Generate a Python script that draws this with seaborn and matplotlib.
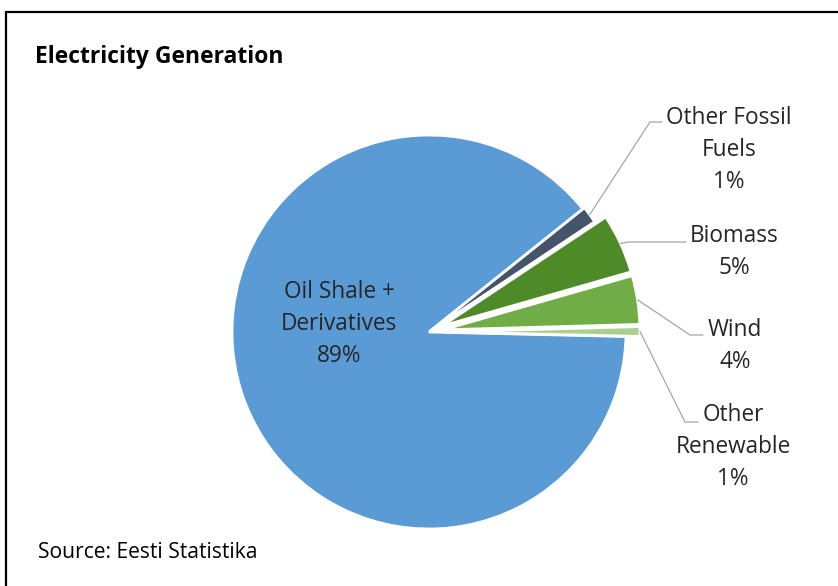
import matplotlib
matplotlib.use("Agg")
import matplotlib.pyplot as plt
import seaborn as sns
import numpy as np

# ---- data ----
categories = ["Oil Shale +\nDerivatives", "Other Fossil\nFuels", "Biomass", "Wind", "Other\nRenewable"]
shares = [88.9, 1.4, 4.9, 4.0, 0.8]
colors = ["#5B9BD5", "#44546A", "#4E8A27", "#70AD47", "#A9D18E"]

sns.set_theme(style="white")
plt.rcParams['font.family'] = ['Open Sans', 'DejaVu Sans']

W, H = 838, 586
fig = plt.figure(figsize=(W / 100, H / 100), dpi=100)
ax = fig.add_axes([0, 0, 1, 1])


def py(y):
    return H - y


explode = [0, 2, 14, 14, 14]
wedges, _ = ax.pie(shares, colors=colors, explode=explode, startangle=-1.3,
                   counterclock=False, center=(429, py(332)), radius=197,
                   wedgeprops=dict(edgecolor='white', linewidth=2), frame=True)
ax.set_xlim(0, W)
ax.set_ylim(0, H)
ax.set_aspect('equal')
ax.axis('off')

# label layout (pixel positions)
label_pos = [(339, 324), (729, 150), (734, 252), (735, 346), (733, 447)]
leader = [None, ((650, 122), (662, 122)), ((628, 242), (686, 242)),
          ((690, 335), (703, 335)), ((685, 422), (698, 422))]

for i, (cat, s) in enumerate(zip(categories, shares)):
    x, y = label_pos[i]
    ax.text(x, py(y), f"{cat}\n{round(s):.0f}%", ha='center', va='center',
            fontsize=16.3, color='#262626', linespacing=1.42)
    if leader[i] is not None:
        w = wedges[i]
        th = np.deg2rad((w.theta1 + w.theta2) / 2)
        cx, cy = w.center
        sx, sy = cx + w.r * np.cos(th), cy + w.r * np.sin(th)
        (ex, ey), (fx, fy) = leader[i]
        ax.plot([sx, ex, fx], [sy, py(ey), py(fy)], color='#A6A6A6', lw=0.9,
                solid_joinstyle='miter')

ax.text(35, py(57), "Electricity Generation", fontweight='bold', fontsize=16.5,
        ha='left', va='center', color='black')
ax.text(38, py(553), "Source: Eesti Statistika", fontsize=15.2,
        ha='left', va='center', color='black')

# outer frame (left and top visible)
ax.plot([6, 6, W], [0, py(11.5), py(11.5)], color='black', lw=1.6, clip_on=False,
        solid_joinstyle='miter')

fig.savefig('out.png', dpi=100)
